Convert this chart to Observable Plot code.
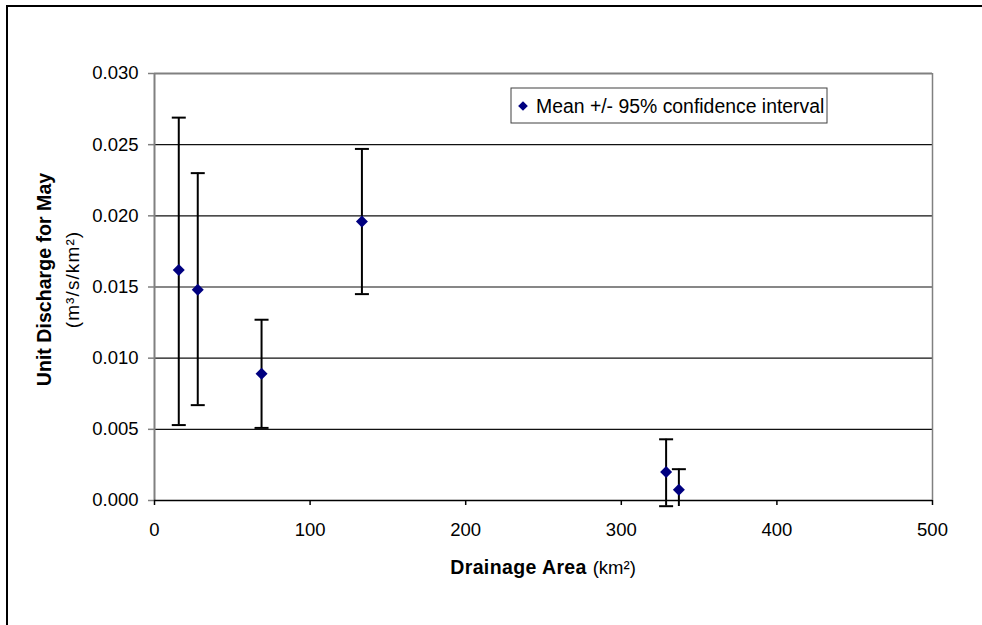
<!DOCTYPE html>
<html><head><meta charset="utf-8">
<script src="https://cdn.jsdelivr.net/npm/d3@7"></script>
<script src="https://cdn.jsdelivr.net/npm/@observablehq/plot@0.6"></script>
<style>
body{margin:0;background:#fff;overflow:hidden}
svg text{font-family:Arial,"Liberation Sans",sans-serif}
</style>
</head><body><div id="chart"></div>
<script>
const area  = [15.6, 27.8, 68.8, 133.3, 328.8, 337.0];
const mean  = [0.0162, 0.0148, 0.0089, 0.0196, 0.0020, 0.00075];
const lower = [0.0053, 0.0067, 0.0051, 0.0145, -0.0004, -0.00075];
const upper = [0.0269, 0.0230, 0.0127, 0.0247, 0.0043, 0.0022];
const xTicks = [0, 100, 200, 300, 400, 500];
const yTicks = [0, 0.005, 0.010, 0.015, 0.020, 0.025, 0.030];
const gridTicks = [0.005, 0.010, 0.015, 0.020, 0.025];
const xTitleBold = "Drainage Area";
const xTitleUnit = "(km²)";
const yTitleBold = "Unit Discharge for May";
const yTitleUnit = "(m³/s/km²)";
const legendLabel = "Mean +/- 95% confidence interval";

(function () {
// the original drawing area stops a few pixels below the x axis
const clipFloor = -0.00042;
const data = area.map((a, i) => ({area: a, mean: mean[i], lo: lower[i], hi: upper[i]}));
const capSymbol = {draw(ctx) { ctx.moveTo(-7, 0); ctx.lineTo(7, 0); }};
const navy = "#000080";

const plot = Plot.plot({
  width: 982, height: 625,
  marginLeft: 154, marginRight: 50, marginTop: 73, marginBottom: 125,
  style: {fontFamily: "Arial, 'Liberation Sans', sans-serif", background: "white", overflow: "hidden"},
  x: {domain: [0, 500], label: null},
  y: {domain: [0, 0.03], label: null},
  marks: [
    Plot.ruleY(gridTicks, {stroke: "#111", strokeWidth: 1.1}),
    Plot.ruleY([0.03], {stroke: "#808080", strokeWidth: 2}),
    Plot.ruleX([500], {stroke: "#808080", strokeWidth: 1.5}),
    Plot.ruleX([0], {stroke: "#808080", strokeWidth: 2}),
    Plot.ruleY([0], {stroke: "#000", strokeWidth: 1.5}),
    Plot.axisY({ticks: yTicks, tickFormat: d3.format(".3f"), tickSize: 6, tickPadding: 10, stroke: "#808080", strokeWidth: 1.5, fontSize: 18.5, fill: "#000"}),
    Plot.axisX({ticks: xTicks, tickFormat: d3.format("d"), tickSize: 5, tickPadding: 17, stroke: "#000", strokeWidth: 1.5, fontSize: 18.5, fill: "#000"}),
    Plot.ruleX(data, {x: "area", y1: d => Math.max(d.lo, clipFloor), y2: "hi", stroke: "#000", strokeWidth: 2}),
    Plot.dot(data.filter(d => d.lo >= clipFloor), {x: "area", y: "lo", symbol: capSymbol, r: 5, fill: "none", stroke: "#000", strokeWidth: 2}),
    Plot.dot(data, {x: "area", y: "hi", symbol: capSymbol, r: 5, fill: "none", stroke: "#000", strokeWidth: 2}),
    Plot.dot(data, {x: "area", y: "mean", symbol: "diamond2", r: 5.4, fill: navy, stroke: "none"})
  ]
});

const svg = d3.select(plot);
const xs = plot.scale("x"), ys = plot.scale("y");
const pLeft = xs.range[0], pRight = xs.range[1];
const pTop = ys.range[1], pBottom = ys.range[0];

// outer border
svg.append("rect").attr("x", 7).attr("y", 6).attr("width", 1100).attr("height", 800)
  .attr("fill", "none").attr("stroke", "#000").attr("stroke-width", 2);

// x title
const cx = (pLeft + pRight) / 2;
const xt = svg.append("text").attr("x", cx).attr("y", 574).attr("text-anchor", "middle").attr("fill", "#000");
xt.append("tspan").attr("font-weight", "bold").attr("font-size", 19.5).style("letter-spacing", "0.4px").text(xTitleBold + " ");
xt.append("tspan").attr("font-size", 18.5).text(xTitleUnit);

// y title
const cy = (pTop + pBottom) / 2 - 7;
svg.append("text").attr("transform", `translate(51,${cy}) rotate(-90)`).attr("text-anchor", "middle")
  .attr("font-weight", "bold").attr("font-size", 19.6).attr("fill", "#000").text(yTitleBold);
svg.append("text").attr("transform", `translate(79,${cy}) rotate(-90)`).attr("text-anchor", "middle")
  .attr("font-size", 19).style("letter-spacing", "1.1px").attr("fill", "#000").text(yTitleUnit);

// legend
const lg = svg.append("g");
lg.append("rect").attr("x", 511).attr("y", 88).attr("width", 316).attr("height", 35)
  .attr("fill", "#fff").attr("stroke", "#404040").attr("stroke-width", 1);
lg.append("path").attr("d", d3.symbol(d3.symbolDiamond2, 60)()).attr("transform", "translate(523,106)").attr("fill", navy);
lg.append("text").attr("x", 536).attr("y", 112.5).attr("text-anchor", "start").attr("font-size", 19.4)
  .attr("fill", "#000").text(legendLabel);

document.getElementById("chart").appendChild(plot);
})();
</script>
</body></html>
